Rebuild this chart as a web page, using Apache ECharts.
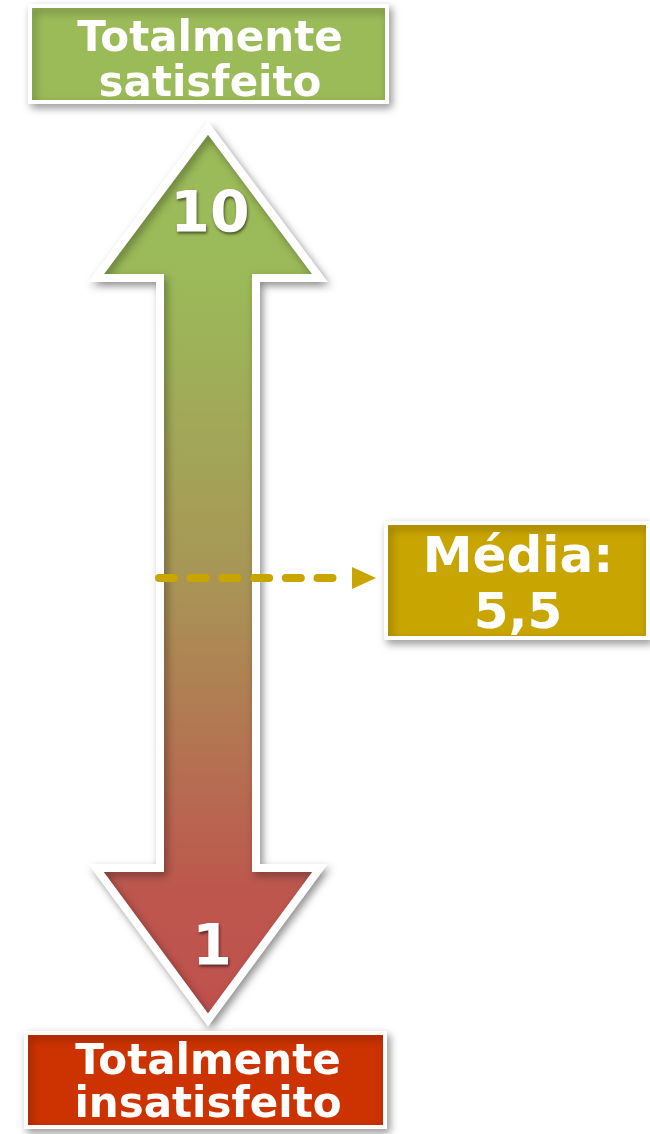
<!DOCTYPE html>
<html>
<head>
<meta charset="utf-8">
<script src="https://cdn.jsdelivr.net/npm/echarts@6/dist/echarts.min.js"></script>
<style>
  html, body { margin: 0; padding: 0; background: #fff; }
  #chart { width: 650px; height: 1134px; }
</style>
</head>
<body>
<div id="chart"></div>
<script>
// scale ends (bottom -> top)
const scaleValues = [1, 10];
const scaleLabels = ['1', '10'];
const endLabels = ['Totalmente\ninsatisfeito', 'Totalmente\nsatisfeito'];
// average
const meanValue = [5.5];
const meanLabel = ['Média:\n5,5'];

const FONT = '"DejaVu Sans", Verdana, sans-serif';
const GOLD = '#C9A500';
const boxColors = ['#CC3300', '#9BBB59'];

const chart = echarts.init(document.getElementById('chart'));

const shadow = {
  shadowBlur: 8,
  shadowColor: 'rgba(0,0,0,0.35)',
  shadowOffsetX: 3,
  shadowOffsetY: 4
};

const option = {
  animation: false,
  grid: { left: 0, right: 0, top: 213, bottom: 189 },
  xAxis: { type: 'value', min: 0, max: 650, show: false },
  yAxis: { type: 'value', min: scaleValues[0], max: scaleValues[1], show: false },
  series: [
    {
      // double headed arrow
      type: 'custom',
      z: 1,
      data: [[0, scaleValues[0], scaleValues[1]]],
      encode: { x: 0, y: [1, 2] },
      renderItem: function (params, api) {
        const yLow = api.coord([0, api.value(1)])[1];
        const yHigh = api.coord([0, api.value(2)])[1];
        const cx = 208;
        const headW = 112, shaftW = 48;
        const topTip = yHigh - 85, topBase = yHigh + 65;
        const botBase = yLow - 77, botTip = yLow + 75;
        return {
          type: 'polygon',
          shape: {
            points: [
              [cx, topTip], [cx + headW, topBase], [cx + shaftW, topBase],
              [cx + shaftW, botBase], [cx + headW, botBase], [cx, botTip],
              [cx - headW, botBase], [cx - shaftW, botBase],
              [cx - shaftW, topBase], [cx - headW, topBase]
            ]
          },
          style: Object.assign({
            fill: new echarts.graphic.LinearGradient(0, 0, 0, 1, [
              { offset: 0, color: '#9BBB59' },
              { offset: 0.18, color: '#9BB959' },
              { offset: 0.5, color: '#A89656' },
              { offset: 0.85, color: '#BD574E' },
              { offset: 1, color: '#C0504D' }
            ]),
            stroke: '#fff',
            lineWidth: 8,
            lineJoin: 'miter'
          }, shadow)
        };
      }
    },
    {
      // end boxes + numbers
      type: 'custom',
      z: 2,
      data: scaleValues.map((v, i) => [0, v, i]),
      encode: { x: 0, y: 1 },
      renderItem: function (params, api) {
        const i = api.value(2);
        const y = api.coord([0, api.value(1)])[1];
        const isTop = i === 1;
        const boxX = isTop ? 30 : 26;
        const boxW = isTop ? 357 : 359;
        const boxY = isTop ? y - 207 : y + 88;
        const boxH = isTop ? 96 : 94;
        return {
          type: 'group',
          children: [
            {
              type: 'rect',
              shape: { x: boxX, y: boxY, width: boxW, height: boxH },
              style: Object.assign({ fill: boxColors[i], stroke: '#fff', lineWidth: 4 }, shadow)
            },
            {
              type: 'text',
              style: {
                text: endLabels[i],
                x: isTop ? 210 : 208,
                y: boxY + boxH / 2 + (isTop ? 9 : 5),
                fill: '#fff',
                font: 'bold 42px ' + FONT,
                lineHeight: isTop ? 45 : 43,
                align: 'center',
                verticalAlign: 'middle'
              }
            },
            {
              type: 'text',
              style: {
                text: scaleLabels[i],
                x: isTop ? 210 : 212,
                y: y + (isTop ? 4 : 5),
                fill: '#fff',
                font: 'bold 57px ' + FONT,
                align: 'center',
                verticalAlign: 'middle',
                textShadowColor: 'rgba(0,0,0,0.55)',
                textShadowBlur: 3,
                textShadowOffsetX: 1,
                textShadowOffsetY: 2
              }
            }
          ]
        };
      }
    },
    {
      // average marker
      type: 'custom',
      z: 3,
      data: meanValue.map((v) => [0, v]),
      encode: { x: 0, y: 1 },
      renderItem: function (params, api) {
        const y = api.coord([0, api.value(1)])[1] - 1;
        return {
          type: 'group',
          children: [
            {
              type: 'polyline',
              shape: { points: [[159, y], [348, y]] },
              style: {
                stroke: GOLD,
                lineWidth: 8,
                lineCap: 'round',
                lineDash: [15, 16.7]
              }
            },
            {
              type: 'polygon',
              shape: { points: [[352, y - 11], [376, y], [352, y + 11]] },
              style: { fill: GOLD }
            },
            {
              type: 'rect',
              shape: { x: 386, y: y - 55, width: 262, height: 115 },
              style: Object.assign({ fill: GOLD, stroke: '#fff', lineWidth: 4 }, shadow)
            },
            {
              type: 'text',
              style: {
                text: meanLabel[0],
                x: 518,
                y: y + 9,
                fill: '#fff',
                font: 'bold 50px ' + FONT,
                lineHeight: 56,
                align: 'center',
                verticalAlign: 'middle'
              }
            }
          ]
        };
      }
    }
  ]
};

chart.setOption(option);
window.addEventListener('resize', () => chart.resize());
</script>
</body>
</html>
